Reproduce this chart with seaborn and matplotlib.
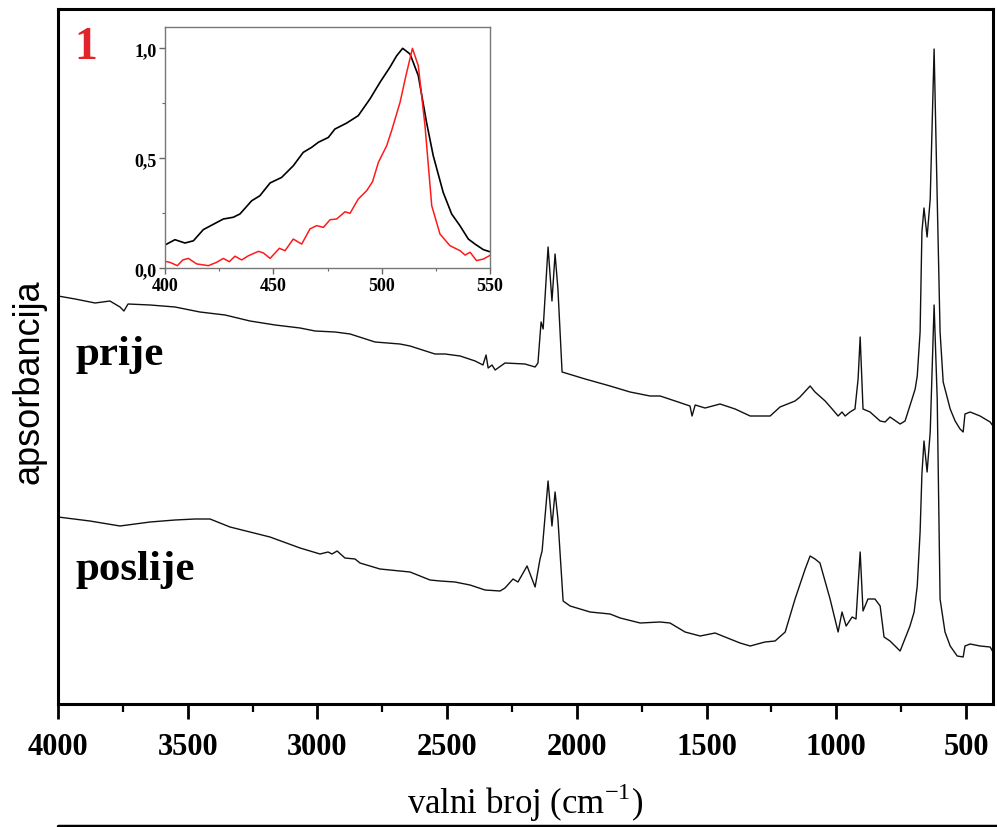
import numpy as np
import pandas as pd
import matplotlib
matplotlib.use("Agg")
import matplotlib.pyplot as plt
import seaborn as sns
from matplotlib.ticker import MultipleLocator, FuncFormatter
from matplotlib.lines import Line2D

# ---------------- data ----------------
# IR spectrum "prije" (before), wavenumber (cm-1) and absorbance (arb. units)
wn_prije = [4000, 3934, 3857, 3800, 3761, 3746, 3730, 3645, 3549, 3453, 3356, 3260, 3163,
            3067, 3009, 2932, 2874, 2778, 2682, 2643, 2547, 2508, 2450, 2392, 2362, 2350,
            2342, 2327, 2315, 2277, 2200, 2161, 2150, 2138, 2130, 2111, 2096, 2084, 2073,
            2057, 1968, 1872, 1795, 1718, 1679, 1621, 1564, 1556, 1544, 1506, 1448, 1390,
            1332, 1255, 1217, 1159, 1140, 1101, 1082, 1043, 1016, 993, 978, 966, 947, 928,
            916, 908, 897, 870, 831, 812, 793, 754, 735, 708, 696, 688, 677, 670, 662, 650,
            638, 623, 611, 600, 588, 561, 542, 523, 511, 504, 484, 446, 407, 396]
ab_prije = [4.08, 4.05, 4.01, 4.03, 3.97, 3.93, 4.00, 3.99, 3.97, 3.92, 3.89, 3.83, 3.79,
            3.76, 3.73, 3.72, 3.70, 3.62, 3.60, 3.58, 3.50, 3.50, 3.48, 3.43, 3.39, 3.49,
            3.36, 3.39, 3.34, 3.41, 3.40, 3.37, 3.41, 3.82, 3.75, 4.57, 4.03, 4.50, 4.15,
            3.32, 3.25, 3.18, 3.12, 3.08, 3.08, 3.03, 2.98, 2.88, 2.99, 2.96, 3.00, 2.95,
            2.88, 2.88, 2.97, 3.03, 3.07, 3.18, 3.12, 3.03, 2.95, 2.88, 2.92, 2.88, 2.92, 2.95,
            3.25, 3.67, 2.95, 2.92, 2.83, 2.82, 2.87, 2.80, 2.83, 3.05, 3.15, 3.28, 3.72, 4.72, 4.96, 4.67,
            5.05, 6.55, 5.05, 3.72, 3.22, 2.95, 2.83, 2.75, 2.72, 2.90, 2.92, 2.88, 2.82, 2.78]

# IR spectrum "poslije" (after)
wn_poslije = [4000, 3877, 3761, 3645, 3549, 3472, 3414, 3337, 3260, 3183, 3067, 2990, 2959,
              2944, 2924, 2894, 2855, 2836, 2759, 2682, 2643, 2566, 2527, 2470, 2412, 2354,
              2296, 2277, 2246, 2227, 2192, 2161, 2142, 2134, 2111, 2096, 2084, 2073, 2065,
              2053, 2026, 1949, 1872, 1833, 1756, 1679, 1641, 1583, 1525, 1467, 1429, 1371,
              1332, 1275, 1236, 1197, 1159, 1120, 1101, 1082, 1063, 1024, 993, 978, 962, 939,
              924, 908, 897, 878, 851, 831, 816, 793, 754, 716, 700, 688, 677, 670, 662, 650,
              638, 623, 611, 600, 581, 561, 534, 511, 504, 484, 446, 407, 396]
ab_poslije = [1.87, 1.83, 1.78, 1.82, 1.84, 1.85, 1.85, 1.77, 1.72, 1.67, 1.56, 1.50, 1.52,
              1.50, 1.53, 1.46, 1.45, 1.41, 1.35, 1.33, 1.32, 1.24, 1.23, 1.22, 1.19, 1.14,
              1.13, 1.16, 1.25, 1.22, 1.38, 1.17, 1.45, 1.53, 2.23, 1.78, 2.12, 1.85, 1.52,
              1.03, 0.98, 0.92, 0.90, 0.86, 0.81, 0.82, 0.81, 0.72, 0.68, 0.71, 0.67, 0.61,
              0.58, 0.62, 0.63, 0.72, 1.05, 1.35, 1.48, 1.45, 1.41, 1.05, 0.72, 0.92, 0.78, 0.87,
              0.85, 1.52, 0.93, 1.05, 1.05, 0.98, 0.67, 0.63, 0.53, 0.78, 0.92, 1.18, 1.72, 2.30, 2.63, 2.32,
              2.72, 3.99, 3.05, 1.05, 0.72, 0.58, 0.48, 0.47, 0.58, 0.60, 0.58, 0.57, 0.52]

# inset: normalised spectra, wavelength (nm)
nm_black = [400, 404.6, 409.2, 413.1, 417.7, 422.3, 426.9, 431.5, 434.6, 440, 443.8, 448.5,
            453.8, 459.2, 463.8, 467.7, 470.8, 475.4, 478.4, 483.8, 489.2, 494.6, 499.2,
            503.8, 506.9, 509.7, 513.1, 516.9, 520.7, 523.8, 528.4, 532.3, 536.1, 540,
            543.1, 546.9, 549.7, 550]
val_black = [0.106, 0.13, 0.115, 0.125, 0.176, 0.20, 0.224, 0.232, 0.247, 0.307, 0.33, 0.388,
             0.413, 0.466, 0.527, 0.55, 0.573, 0.595, 0.633, 0.66, 0.694, 0.77, 0.845,
             0.914, 0.966, 1.0, 0.974, 0.876, 0.664, 0.512, 0.345, 0.247, 0.194, 0.133,
             0.11, 0.085, 0.076, 0.076]
nm_red = [400, 402.3, 405.7, 408.2, 410.8, 414.6, 420, 423.8, 426.9, 429.7, 432.3, 435.4,
          438.5, 443.1, 445.4, 448.5, 452.8, 455.4, 459.2, 463.1, 466.9, 470, 473.1, 476.2,
          479.2, 483.1, 485.4, 489.2, 493.1, 495.8, 498.5, 502.3, 504.6, 508.5, 511.2,
          514.2, 516.9, 520, 523.1, 526.9, 531.5, 536.2, 538.5, 540.8, 543.8, 546.9, 549.7, 550]
val_red = [0.032, 0.027, 0.012, 0.038, 0.045, 0.02, 0.012, 0.027, 0.045, 0.03, 0.055, 0.038,
           0.057, 0.077, 0.07, 0.045, 0.091, 0.08, 0.133, 0.11, 0.179, 0.194, 0.186, 0.221,
           0.224, 0.257, 0.25, 0.315, 0.353, 0.394, 0.482, 0.557, 0.626, 0.755, 0.876,
           1.0, 0.921, 0.648, 0.285, 0.156, 0.103, 0.08, 0.06, 0.073, 0.035, 0.042, 0.057, 0.06]

x_ticks = [4000, 3500, 3000, 2500, 2000, 1500, 1000, 500]
inset_xticks = [400, 450, 500, 550]
inset_yticks = [0.0, 0.5, 1.0]

# ---------------- style ----------------
sns.set_style("white")
plt.rcParams["font.family"] = ["Liberation Serif", "DejaVu Serif"]
plt.rcParams["mathtext.fontset"] = "custom"
plt.rcParams["mathtext.rm"] = "Liberation Serif"
plt.rcParams["text.color"] = "black"
plt.rcParams["axes.labelcolor"] = "black"
plt.rcParams["xtick.color"] = "black"
plt.rcParams["ytick.color"] = "black"

W, H = 997, 828
fig = plt.figure(figsize=(W / 100, H / 100), dpi=100)
fig.patch.set_facecolor("white")

# main axes
ax = fig.add_axes([58 / W, 1 - 705 / H, 935 / W, 695 / H])
df1 = pd.DataFrame({"wn": wn_prije, "a": ab_prije})
df2 = pd.DataFrame({"wn": wn_poslije, "a": ab_poslije})
sns.lineplot(data=df1, x="wn", y="a", sort=False, estimator=None, color="#111111", lw=1.0, ax=ax)
sns.lineplot(data=df2, x="wn", y="a", sort=False, estimator=None, color="#111111", lw=1.0, ax=ax)
ax.set_xlim(4000, 396)
ax.set_ylim(0, 6.95)
ax.set_yticks([])
ax.set_xticks(x_ticks)
ax.xaxis.set_minor_locator(MultipleLocator(250))
ax.tick_params(axis="x", which="major", direction="out", length=11, width=2,
               labelsize=22, pad=9, bottom=True, labelcolor="black")
ax.tick_params(axis="x", which="minor", direction="out", length=6, width=1.6, bottom=True)
for lab in ax.get_xticklabels():
    lab.set_fontweight("bold")
for s in ax.spines.values():
    s.set_linewidth(2.2)
    s.set_color("black")
ax.set_xlabel(r"valni broj (cm$^{\mathregular{-1}}$)", fontsize=25, labelpad=14, color="black")
ax.set_ylabel("apsorbancija", fontsize=26, family=["Liberation Sans", "DejaVu Sans"], color="black")
ax.yaxis.set_label_coords(-0.012, 0.465)
ax.yaxis.label.set_va("bottom")

# labels inside the plot
fig.text(75 / W, 1 - 365 / H, "prije", fontsize=31, fontweight="bold", va="baseline", ha="left",
         color="black")
fig.text(75 / W, 1 - 580 / H, "poslije", fontsize=31, fontweight="bold", va="baseline", ha="left",
         color="black")
fig.text(74 / W, 1 - 59 / H, "1", fontsize=33, fontweight="bold", color="#e3232b",
         va="baseline", ha="left")

# inset
axin = fig.add_axes([165 / W, 1 - 269.3 / H, 325 / W, 241.3 / H])
dfb = pd.DataFrame({"nm": nm_black, "v": val_black})
dfr = pd.DataFrame({"nm": nm_red, "v": val_red})
sns.lineplot(data=dfb, x="nm", y="v", sort=False, estimator=None, color="black", lw=1.2, ax=axin)
sns.lineplot(data=dfr, x="nm", y="v", sort=False, estimator=None, color="#ff1a1a", lw=1.1, ax=axin)
axin.set_xlim(400, 550)
axin.set_ylim(0, 1.097)
axin.set_xticks(inset_xticks)
axin.set_yticks(inset_yticks)
axin.xaxis.set_minor_locator(MultipleLocator(25))
axin.yaxis.set_minor_locator(MultipleLocator(0.25))
axin.yaxis.set_major_formatter(FuncFormatter(lambda v, p: f"{v:.1f}".replace(".", ",")))
axin.tick_params(which="major", direction="out", length=4, width=1, color="#666666",
                 labelsize=13, pad=2, bottom=True, left=True, labelcolor="black")
axin.tick_params(which="minor", direction="out", length=2.5, width=0.8, color="#666666",
                 bottom=True, left=True)
for lab in axin.get_xticklabels() + axin.get_yticklabels():
    lab.set_fontweight("bold")
axin.set_xlabel("")
axin.set_ylabel("")
for s in axin.spines.values():
    s.set_linewidth(1.0)
    s.set_color("#777777")
axin.set_facecolor("white")

# top edge of next panel (cropped)
fig.add_artist(Line2D([58 / W, 1.0], [1 - 826.5 / H, 1 - 826.5 / H], color="black", lw=2.5,
                      transform=fig.transFigure))

fig.savefig("out.png", dpi=100)
